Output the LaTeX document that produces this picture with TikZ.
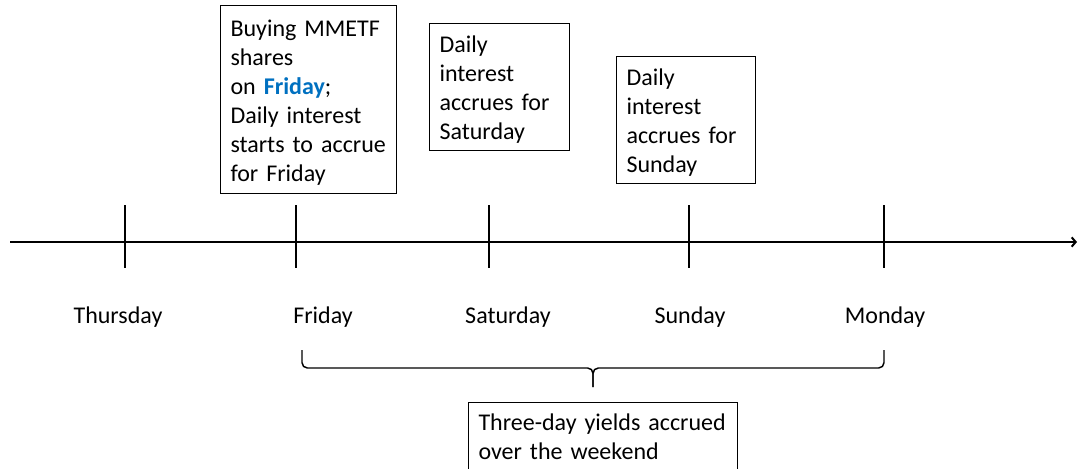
\documentclass[tikz,border=0pt]{standalone}
\usepackage{fontspec}
\setmainfont{Carlito}
\usetikzlibrary{arrows.meta}
\definecolor{mmblue}{RGB}{0,112,192}
\begin{document}
\begin{tikzpicture}[x=0.75pt,y=-0.75pt,
    txt/.style={font=\fontsize{18}{21.75}\selectfont},
    note/.style={txt, draw, line width=0.75pt, anchor=north west, align=left,
        inner xsep=7.5pt, inner ysep=2pt},
    tick/.style={line width=1.1pt}]
    \useasboundingbox (0,0) rectangle (1078,468);
    \clip (0,0) rectangle (1078,468);

    % time axis
    \coordinate (start) at (10,242);
    \coordinate (end) at (1077,242);
    \draw[line width=1.5pt, -{Straight Barb[length=3pt,width=7pt]}] (start) -- (end);

    \foreach \x/\day/\lx in {125/Thursday/118, 296/Friday/323, 489/Saturday/508, 689/Sunday/690, 884/Monday/885} {
        \coordinate (t\day) at (\x,205);
        \coordinate (b\day) at (\x,268);
        \draw[tick] (t\day) -- (b\day);
        \node[txt] (l\day) at (\lx,317.5) {\day};
    }

    % notes above the axis
    \node[note, text width=117pt, minimum height=141pt] (buy) at (220,5)
        {\rule{0pt}{17pt}Buying MMETF\\shares\\on \textcolor{mmblue}{\textbf{Friday}};\\Daily interest\\starts to accrue\\for Friday};
    \node[note, text width=90pt, minimum height=95.25pt] (sat) at (429,23)
        {\rule{0pt}{17pt}Daily\\interest\\accrues for\\Saturday};
    \node[note, text width=89.25pt, minimum height=95.25pt] (sun) at (616,56)
        {\rule{0pt}{17pt}Daily\\interest\\accrues for\\Sunday};

    % brace under the weekend
    \coordinate (bl) at (302,350);
    \coordinate (br) at (884,350);
    \coordinate (tip) at (593,387);
    \draw[line width=1.1pt, rounded corners=4pt] (bl) -- (302,368) -- (593,368) -- (tip);
    \draw[line width=1.1pt, rounded corners=4pt] (br) -- (884,368) -- (593,368) -- (tip);

    \node[note, text width=186.75pt, minimum height=51.5pt] (yield) at (468,402)
        {Three-day yields accrued\\over the weekend};
\end{tikzpicture}
\end{document}
